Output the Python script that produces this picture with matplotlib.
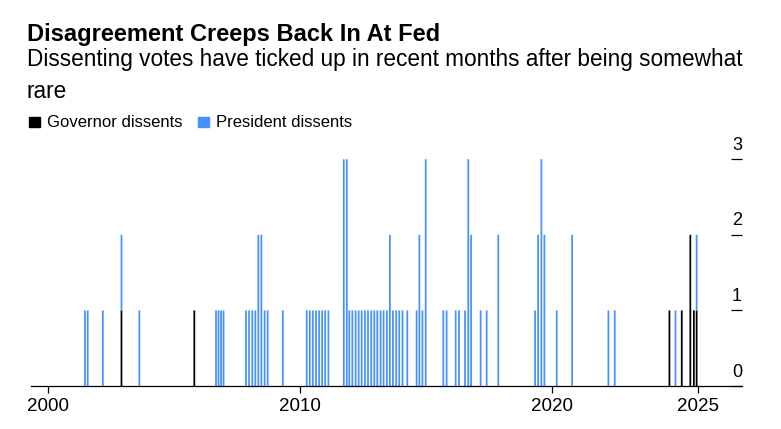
import matplotlib
matplotlib.use('Agg')
import matplotlib.pyplot as plt
from matplotlib.patches import Rectangle

plt.rcParams['font.family'] = ['Liberation Sans', 'DejaVu Sans']

# FOMC meetings with at least one dissent (decimal year)
dates = [
    2001.48, 2001.59, 2002.19, 2002.93, 2003.64, 2005.82,
    2006.68, 2006.78, 2006.88, 2006.98,
    2007.87, 2007.99, 2008.12, 2008.24, 2008.36, 2008.48, 2008.61, 2008.73,
    2009.33,
    2010.28, 2010.40, 2010.52, 2010.65, 2010.77, 2010.89, 2011.01, 2011.14,
    2011.75, 2011.87,
    2011.97, 2012.09, 2012.22, 2012.34, 2012.46, 2012.59, 2012.71, 2012.84, 2012.96,
    2013.08, 2013.21, 2013.33, 2013.46, 2013.58, 2013.70, 2013.83, 2013.95, 2014.08,
    2014.27, 2014.64, 2014.75, 2014.87, 2015.00,
    2015.70, 2015.83,
    2016.19, 2016.32, 2016.56, 2016.69, 2016.80,
    2017.18, 2017.42, 2017.88,
    2019.34, 2019.46, 2019.59, 2019.71,
    2020.20, 2020.81,
    2022.25, 2022.50,
    2024.67, 2024.91, 2025.16, 2025.50, 2025.64, 2025.75,
]
governor = [
    0, 0, 0, 1, 0, 1,
    0, 0, 0, 0,
    0, 0, 0, 0, 0, 0, 0, 0,
    0,
    0, 0, 0, 0, 0, 0, 0, 0,
    0, 0,
    0, 0, 0, 0, 0, 0, 0, 0, 0,
    0, 0, 0, 0, 0, 0, 0, 0, 0,
    0, 0, 0, 0, 0,
    0, 0,
    0, 0, 0, 0, 0,
    0, 0, 0,
    0, 0, 0, 0,
    0, 0,
    0, 0,
    1, 0, 1, 2, 1, 1,
]
president = [
    1, 1, 1, 1, 1, 0,
    1, 1, 1, 1,
    1, 1, 1, 1, 2, 2, 1, 1,
    1,
    1, 1, 1, 1, 1, 1, 1, 1,
    3, 3,
    1, 1, 1, 1, 1, 1, 1, 1, 1,
    1, 1, 1, 1, 2, 1, 1, 1, 1,
    1, 1, 2, 1, 3,
    1, 1,
    1, 1, 1, 3, 2,
    1, 1, 2,
    1, 2, 3, 2,
    1, 2,
    1, 1,
    0, 1, 0, 0, 0, 1,
]
assert len(dates) == len(governor) == len(president)

x_ticks = [2000, 2010, 2020, 2025.82]
x_labels = ['2000', '2010', '2020', '2025']
y_ticks = [0, 1, 2, 3]

BLUE = '#4592ff'
W, H = 781, 429

fig = plt.figure(figsize=(W / 100, H / 100), dpi=100)
ax = fig.add_axes([31 / W, 43 / H, 711 / W, 241.9 / H])

ax.bar(dates, governor, width=0.07, color='black', linewidth=0, snap=False)
ax.bar(dates, president, bottom=governor, width=0.07, color=BLUE, linewidth=0, snap=False)

ax.set_xlim(1999.34, 2027.55)
ax.set_ylim(0, 3.2)
for side in ['top', 'left', 'right']:
    ax.spines[side].set_visible(False)
ax.spines['bottom'].set_linewidth(0.9)

ax.set_xticks(x_ticks)
ax.set_xticklabels(x_labels)
ax.tick_params(axis='x', direction='out', length=4.8, width=0.9, pad=4, labelsize=13.5)

ax.yaxis.tick_right()
ax.set_yticks(y_ticks)
ax.tick_params(axis='y', direction='in', length=7.9, width=0.9, labelright=False)
for v in y_ticks:
    ax.annotate(str(v), xy=(1, v), xycoords=('axes fraction', 'data'),
                xytext=(0, 6.8), textcoords='offset points',
                ha='right', va='baseline', fontsize=13)

# titles
fig.text(27 / W, 1 - 41 / H, 'Disagreement Creeps Back In At Fed',
         fontsize=17, fontweight='bold', va='baseline')
fig.text(27 / W, 1 - 66 / H,
         'Dissenting votes have ticked up in recent months after being somewhat',
         fontsize=16.3, va='baseline')
fig.text(27 / W, 1 - 98 / H, 'rare', fontsize=16.3, va='baseline')

# legend
fig.add_artist(Rectangle((29 / W, 1 - 127.3 / H), 11 / W, 10 / H,
                         transform=fig.transFigure, color='black'))
fig.text(47 / W, 1 - 127.3 / H, 'Governor dissents', fontsize=12, va='baseline')
fig.add_artist(Rectangle((198 / W, 1 - 127.3 / H), 11 / W, 10 / H,
                         transform=fig.transFigure, color=BLUE))
fig.text(216 / W, 1 - 127.3 / H, 'President dissents', fontsize=12, va='baseline')

fig.savefig('out.png', dpi=100)
